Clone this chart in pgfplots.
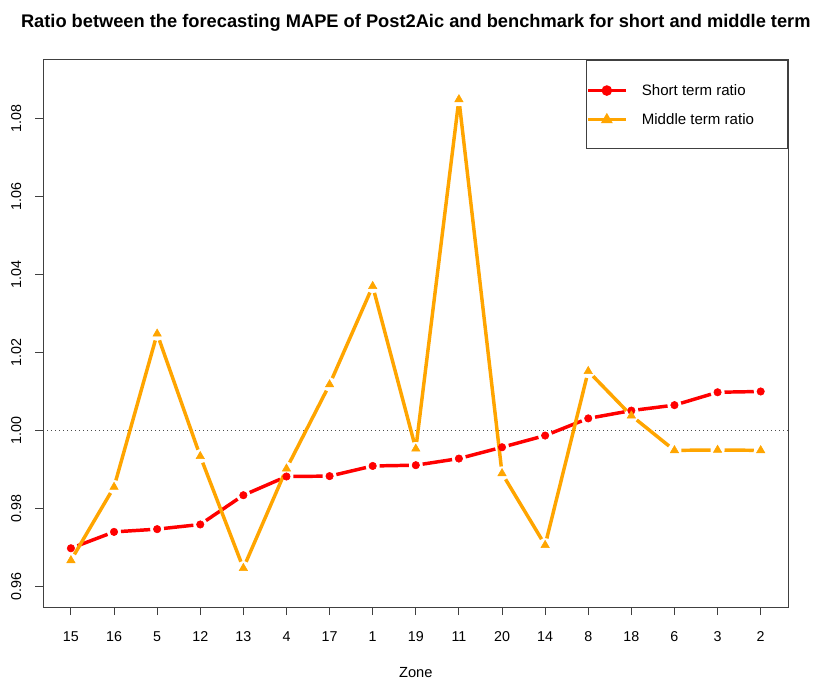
\documentclass[border=0pt]{standalone}
\usepackage{fontspec}
\setmainfont{Liberation Sans}
\usepackage{pgfplots}
\usepackage{pgfplotstable}
\pgfplotsset{compat=1.18}

\definecolor{rorange}{HTML}{FFA500}
\definecolor{rred}{HTML}{FF0000}

% zone order along x, short / middle term MAPE ratio
\pgfplotstableread{
x zone short  middle
1  15  0.9699 0.9668
2  16  0.9741 0.9856
3  5   0.9748 1.0249
4  12  0.9760 0.9935
5  13  0.9835 0.9648
6  4   0.9883 0.9903
7  17  0.9884 1.0119
8  1   0.9910 1.0371
9  19  0.9912 0.9954
10 11  0.9929 1.0850
11 20  0.9958 0.9891
12 14  0.9988 0.9707
13 8   1.0032 1.0153
14 18  1.0052 1.0039
15 6   1.0066 0.9950
16 3   1.0099 0.9951
17 2   1.0101 0.9950
}\zones

\tikzset{
  seg/.style={line width=2.6pt, shorten <=5.2pt, shorten >=5.2pt},
}

\begin{document}
\begin{tikzpicture}
\begin{axis}[
    name=ax,
    scale only axis,
    width=558.75pt, height=410.7pt,
    xmin=0.36, xmax=17.64,
    ymin=0.9548, ymax=1.0952,
    axis line style={black!75, line width=0.75pt},
    every tick/.style={black!75, line width=0.75pt},
    tick align=outside,
    major tick length=6pt,
    xtick pos=bottom, ytick pos=left,
    xtick={1,...,17},
    xticklabels={15,16,5,12,13,4,17,1,19,11,20,14,8,18,6,3,2},
    ytick={0.96,0.98,1.00,1.02,1.04,1.06,1.08},
    /pgf/number format/.cd, fixed, fixed zerofill, precision=2, assume math mode=true,
    /pgfplots/.cd,
    tick label style={font=\fontsize{10.7}{12}\selectfont, inner sep=0pt},
    xticklabel style={anchor=base, yshift=-20pt},
    yticklabel style={rotate=90, anchor=base, yshift=10.7pt},
    every axis title shift=0pt,
    title={Ratio between the forecasting MAPE of Post2Aic and benchmark for short and middle term},
    title style={at={(axis description cs:0.5,1)}, anchor=base, yshift=24.2pt, inner sep=0pt,
                 font=\bfseries\fontsize{13.7}{16}\selectfont},
    xlabel={Zone},
    xlabel style={at={(axis description cs:0.5,0)}, anchor=base, yshift=-52.5pt, inner sep=0pt,
                  font=\fontsize{11}{13}\selectfont},
    legend style={at={(axis description cs:1,1)}, anchor=north east,
                  draw=black!75, line width=0.75pt, fill=white,
                  inner xsep=0.15pt, inner ysep=11.1pt,
                  row sep=0pt, column sep=10.95pt,
                  nodes={inner sep=0pt, text height=15.6pt, text depth=6.3pt},
                  font=\fontsize{11.3}{13}\selectfont},
    legend cell align=left,
    legend image code/.code={
      \draw[mark repeat=2, mark phase=2, yshift=-0.8pt]
        plot coordinates {(0pt,0pt) (14pt,0pt) (28pt,0pt)};},
]
% reference line at ratio 1
\addplot[black!70, line width=0.6pt, dash pattern=on 0.75pt off 2.25pt, forget plot]
  coordinates {(0.36,1) (17.64,1)};

% line segments with gaps around the points
\pgfplotsforeachungrouped \r in {0,...,15}{%
  \pgfmathtruncatemacro\s{\r+1}%
  \pgfmathtruncatemacro\xa{\r+1}%
  \pgfmathtruncatemacro\xb{\r+2}%
  \pgfplotstablegetelem{\r}{short}\of\zones \let\ya\pgfplotsretval
  \pgfplotstablegetelem{\s}{short}\of\zones \let\yb\pgfplotsretval
  \edef\cmd{\noexpand\addplot[seg, rred, forget plot] coordinates {(\xa,\ya) (\xb,\yb)};}%
  \cmd
}
\addplot[only marks, mark=*, mark size=2.8pt, rred, mark options={draw=none, fill=rred}, forget plot]
  table[x=x, y=short] {\zones};

\pgfplotsforeachungrouped \r in {0,...,15}{%
  \pgfmathtruncatemacro\s{\r+1}%
  \pgfmathtruncatemacro\xa{\r+1}%
  \pgfmathtruncatemacro\xb{\r+2}%
  \pgfplotstablegetelem{\r}{middle}\of\zones \let\ya\pgfplotsretval
  \pgfplotstablegetelem{\s}{middle}\of\zones \let\yb\pgfplotsretval
  \edef\cmd{\noexpand\addplot[seg, rorange, forget plot] coordinates {(\xa,\ya) (\xb,\yb)};}%
  \cmd
}
\addplot[only marks, mark=triangle*, mark size=3.6pt, rorange, mark options={draw=none, fill=rorange}, forget plot]
  table[x=x, y=middle] {\zones};

\addlegendimage{rred, line width=2.6pt, mark=*, mark size=2.6pt, mark options={draw=none, fill=rred}}
\addlegendentry{\makebox[109.3pt][l]{Short term ratio}}
\addlegendimage{rorange, line width=2.6pt, mark=triangle*, mark size=2.6pt, mark options={draw=none, fill=rorange}}
\addlegendentry{\makebox[109.3pt][l]{Middle term ratio}}
\end{axis}
\pgfresetboundingbox
\path ([shift={(-32.5pt,-53.85pt)}]ax.south west) rectangle ([shift={(19.3pt,44.7pt)}]ax.north east);
\end{tikzpicture}
\end{document}
